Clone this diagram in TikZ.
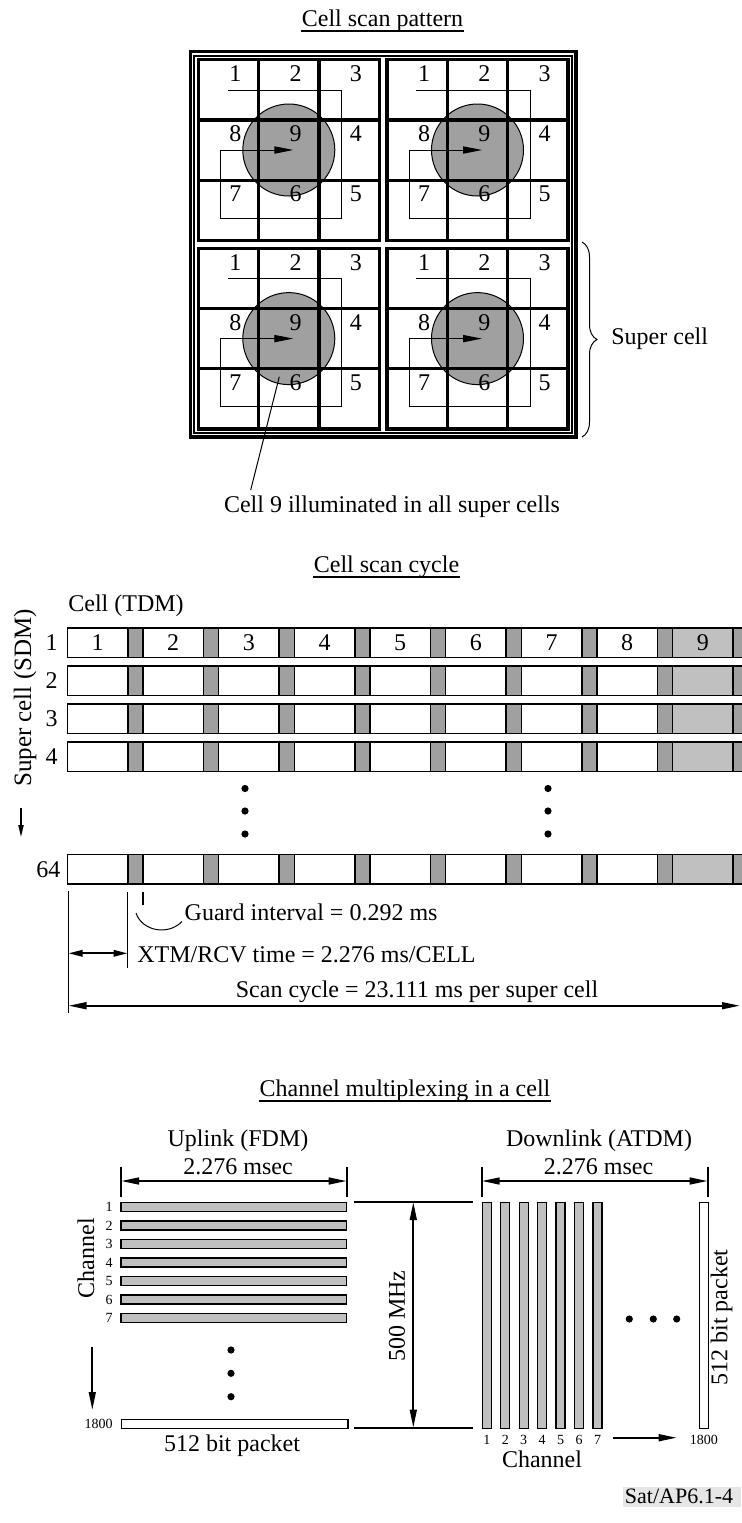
\documentclass[tikz,border=0pt]{standalone}
\usepackage{fontspec}
\setmainfont{Liberation Serif}
\usetikzlibrary{arrows.meta,decorations.pathreplacing,calc}
\definecolor{dgray}{RGB}{160,160,160}
\definecolor{lgray}{RGB}{192,192,192}
\definecolor{bggray}{RGB}{230,230,230}
\begin{document}
\begin{tikzpicture}[x=0.5pt,y=-0.5pt,
  every node/.style={inner sep=0pt, font=\fontsize{12}{14}\selectfont},
  small/.style={font=\fontsize{7}{8}\selectfont},
  grid/.style={line width=1.6pt},
  thinl/.style={line width=0.5pt},
  uline/.style={line width=0.8pt},
  rowbox/.style={draw, line width=0.7pt, fill=white},
  guardbox/.style={draw, line width=0.7pt, fill=dgray},
  ninebox/.style={draw, line width=0.7pt, fill=lgray},
  barbox/.style={draw, line width=0.7pt, fill=lgray},
  wbarbox/.style={draw, line width=0.7pt, fill=white},
  bigtip/.style={line width=1pt},
  dimline/.style={line width=1pt, {Triangle[length=9pt,width=3.4pt]}-{Triangle[length=9pt,width=3.4pt]}},
  onearrow/.style={line width=1pt, -{Triangle[length=9pt,width=3.4pt]}},
  tickline/.style={line width=1pt},
  dotnode/.style={circle, fill=black, minimum size=3.6pt, inner sep=0pt},
]
\useasboundingbox (0,0) rectangle (741,1523);

% ---------------- Cell scan pattern ----------------
\node[anchor=base] (t1) at (382.5,26) {Cell scan pattern};
\draw[uline] ([yshift=-2.4pt]t1.base west) -- ([yshift=-2.4pt]t1.base east);

\draw[line width=1.65pt] (190.3,51.7) rectangle (576,437);
\draw[line width=1pt] (194.3,55.7) rectangle (572,433);

\foreach \s/\ox/\oy in {a/198.3/59.7, b/387/59.7, c/198.3/248.3, d/387/248.3}{
  \begin{scope}[shift={(\ox,\oy)}]
    \fill[dgray] (90.5,90.3) circle[radius=23pt];
    \draw[thinl] (90.5,90.3) circle[radius=23pt];
    \draw[thinl,-{Triangle[length=9.5pt,width=3.6pt]}] (29.4,30.3) -- (143.4,30.3) -- (143.4,158.6) -- (22.4,158.6) -- (22.4,90.3) -- (95,90.3);
    \draw[grid] (0,0) rectangle (181,180.6)
      (60.3,0) -- (60.3,180.6) (120.7,0) -- (120.7,180.6)
      (0,60.2) -- (181,60.2) (0,120.4) -- (181,120.4);
    \foreach \n/\c/\r in {1/0/0, 2/1/0, 3/2/0, 8/0/1, 9/1/1, 4/2/1, 7/0/2, 6/1/2, 5/2/2}
      \node (\s\n) at (\c*60.3+37,\r*60.2+14) {\n};
  \end{scope}
}

\coordinate (bt) at (582,242);
\coordinate (bb) at (582,437);
\draw[thinl, decorate, decoration={brace, amplitude=7.5pt}] (bt) -- (bb);
\node[anchor=base west] (sc) at (611,344) {Super cell};

\coordinate (la) at (279.3,376.7);
\coordinate (lb) at (250.7,490);
\draw[thinl] (la) -- (lb);
\node[anchor=base] (illum) at (392,512) {Cell 9 illuminated in all super cells};

% ---------------- Cell scan cycle ----------------
\node[anchor=base] (t2) at (386.5,572) {Cell scan cycle};
\draw[uline] ([yshift=-2.4pt]t2.base west) -- ([yshift=-2.4pt]t2.base east);

\node[anchor=base west] (tdm) at (68,611.5) {Cell (TDM)};
\node[rotate=90, font=\fontsize{12.5}{14}\selectfont] (sdm) at (25,698) {Super cell (SDM)};

\foreach \row/\top/\lx in {1/628/51.7, 2/666/51.7, 3/704/51.7, 4/742/51.7, 64/854.5/48.4}{
  \foreach \k in {0,...,8}{
    \pgfmathsetmacro\xa{67.3+\k*75.67}
    \ifnum\k=8
      \draw[ninebox] (\xa,\top) rectangle (\xa+60.5,\top+29.5);
    \else
      \draw[rowbox] (\xa,\top) rectangle (\xa+60.5,\top+29.5);
    \fi
    \draw[guardbox] (\xa+60.5,\top) rectangle (\xa+75.67,\top+29.5);
  }
  \node (r\row) at (\lx,\top+15) {\row};
}
\foreach \k in {0,...,8}{
  \pgfmathsetmacro\xa{67.3+\k*75.67+30.25}
  \pgfmathtruncatemacro\num{\k+1}
  \node (c\num) at (\xa,643) {\num};
}

\foreach \i/\yy in {1/788.5, 2/811, 3/834}{
  \node[dotnode] (dl\i) at (245,\yy) {};
  \node[dotnode] (dr\i) at (548,\yy) {};
}

\coordinate (da) at (21,808);
\coordinate (db) at (21,837);
\draw[line width=0.8pt,-{Triangle[length=6pt,width=2.6pt]}] (da) -- (db);

\coordinate (v1t) at (68.5,891);
\coordinate (v1b) at (68.5,1013);
\coordinate (v2t) at (127.6,891.7);
\coordinate (v2b) at (127.6,968.3);
\coordinate (v3t) at (142.7,891.7);
\coordinate (v3b) at (142.7,905);
\draw[line width=0.8pt] (v1t) -- (v1b) (v2t) -- (v2b) (v3t) -- (v3b);

\coordinate (ga) at (136,913);
\coordinate (gb) at (182,921.5);
\draw[thinl] (ga) .. controls (142,931) and (168,936) .. (gb);
\node[anchor=base west] (gi) at (184.3,920) {Guard interval = 0.292 ms};

\coordinate (xa) at (68.5,953.3);
\coordinate (xb) at (127.6,953.3);
\draw[line width=1pt, {Triangle[length=7pt,width=3.2pt]}-{Triangle[length=7pt,width=3.2pt]}] (xa) -- (xb);
\node[anchor=base west] (xtm) at (137,962.5) {XTM/RCV time = 2.276 ms/CELL};

\coordinate (sa) at (68.5,1005.7);
\coordinate (sb) at (740,1005.7);
\draw[dimline] (sa) -- (sb);
\node[anchor=base] (scan) at (417,997.5) {Scan cycle = 23.111 ms per super cell};

% ---------------- Channel multiplexing ----------------
\node[anchor=base] (t3) at (405,1096) {Channel multiplexing in a cell};
\draw[uline] ([yshift=-2.4pt]t3.base west) -- ([yshift=-2.4pt]t3.base east);

% Uplink
\node[anchor=base] (ul) at (238,1146.5) {Uplink (FDM)};
\node[anchor=base] (ult) at (238,1174) {2.276 msec};
\coordinate (u1t) at (121,1167.3);
\coordinate (u1b) at (121,1196.7);
\coordinate (u2t) at (346.7,1167.3);
\coordinate (u2b) at (346.7,1196.7);
\draw[tickline] (u1t) -- (u1b) (u2t) -- (u2b);
\draw[dimline] (121,1181) -- (346.7,1181);

\foreach \k in {1,...,7}{
  \draw[barbox] (121,{1202.7+(\k-1)*18.45}) rectangle (346.7,{1211.7+(\k-1)*18.45});
  \node[small, anchor=east] (uc\k) at (113,{1207.2+(\k-1)*18.45}) {\k};
}
\draw[wbarbox] (121.5,1419.3) rectangle (348,1428.3);
\node[small, anchor=east] (uc1800) at (113,1424) {1800};
\node[anchor=base] (upk) at (232,1451) {512 bit packet};

\node[rotate=90] (chl) at (86,1258) {Channel};
\coordinate (ca) at (92.3,1347);
\coordinate (cb) at (92.3,1410);
\draw[onearrow] (ca) -- (cb);

\foreach \i/\yy in {1/1350, 2/1373.3, 3/1396.7}
  \node[dotnode] (ud\i) at (231,\yy) {};

% 500 MHz
\coordinate (m1a) at (354.3,1202);
\coordinate (m1b) at (472.7,1202);
\coordinate (m2a) at (354.3,1427.7);
\coordinate (m2b) at (472.7,1427.7);
\draw[tickline] (m1a) -- (m1b) (m2a) -- (m2b);
\draw[dimline] (413.3,1202) -- (413.3,1427.7);
\node[rotate=90] (mhz) at (397,1316) {500 MHz};

% Downlink
\node[anchor=base] (dl) at (599,1146.5) {Downlink (ATDM)};
\node[anchor=base] (dlt) at (598.5,1174) {2.276 msec};
\coordinate (w1t) at (481.7,1167.3);
\coordinate (w1b) at (481.7,1196.7);
\coordinate (w2t) at (707.7,1167.3);
\coordinate (w2b) at (707.7,1196.7);
\draw[tickline] (w1t) -- (w1b) (w2t) -- (w2b);
\draw[dimline] (481.7,1181) -- (707.7,1181);

\foreach \k in {1,...,7}{
  \draw[barbox] ({482.3+(\k-1)*18.45},1202.7) rectangle ({491.3+(\k-1)*18.45},1428.3);
  \node[small, anchor=north] (dc\k) at ({486.8+(\k-1)*18.45},1435) {\k};
}
\draw[wbarbox] (699.3,1202.7) rectangle (708.3,1428.3);
\node[small, anchor=north] (dc1800) at (703.8,1435) {1800};
\coordinate (ha) at (613.3,1437.7);
\coordinate (hb) at (676.7,1437.7);
\draw[onearrow] (ha) -- (hb);
\node (chb) at (542,1459) {Channel};

\foreach \i/\xx in {1/629.3, 2/653.3, 3/676.7}
  \node[dotnode] (hd\i) at (\xx,1319) {};

\node[rotate=90] (dpk) at (721.5,1317.5) {512 bit packet};

% label
\fill[bggray] (623,1487) rectangle (741,1507);
\node[anchor=base, font=\fontsize{11}{13}\selectfont] (ref) at (679,1503) {Sat/AP6.1-4};

\end{tikzpicture}
\end{document}
